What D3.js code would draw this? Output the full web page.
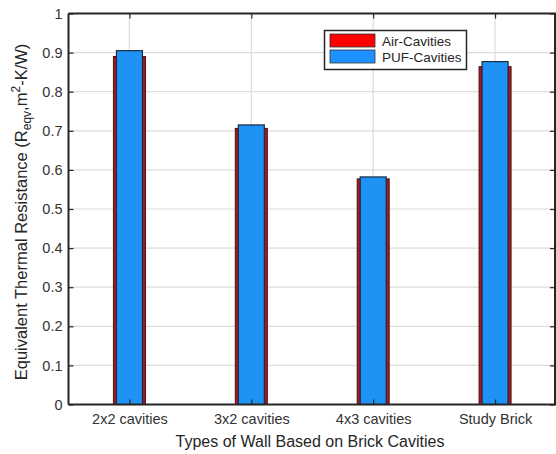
<!DOCTYPE html>
<html>
<head>
<meta charset="utf-8">
<script src="https://cdn.jsdelivr.net/npm/d3@7"></script>
<style>
  html, body { margin: 0; padding: 0; background: #fff; }
  svg { display: block; font-family: "Liberation Sans", Arial, sans-serif; }
</style>
</head>
<body>
<svg id="chart" width="556" height="454"></svg>
<script>
// Wall types and equivalent thermal resistance values (m²·K/W)
const categories = ["2x2 cavities", "3x2 cavities", "4x3 cavities", "Study Brick"];
const airCavities = [0.890, 0.706, 0.577, 0.864];
const pufCavities = [0.905, 0.715, 0.582, 0.877];
const yTicks = [0, 0.1, 0.2, 0.3, 0.4, 0.5, 0.6, 0.7, 0.8, 0.9, 1];
const seriesNames = ["Air-Cavities", "PUF-Cavities"];

const svg = d3.select("#chart");
const plotLeft = 68.5, plotRight = 556, plotTop = 13.5, plotBottom = 404.5;

const x = d3.scaleLinear().domain([0.5, 4.5]).range([plotLeft, plotRight]);
const y = d3.scaleLinear().domain([0, 1]).range([plotBottom, plotTop]);

const axisColor = "#262626";

// grid
const grid = svg.append("g");
grid.selectAll("line.h").data(yTicks).join("line")
  .attr("x1", plotLeft).attr("x2", plotRight)
  .attr("y1", d => y(d)).attr("y2", d => y(d))
  .attr("stroke", "#dcdcdc").attr("stroke-width", 1.2);
grid.selectAll("line.v").data(categories).join("line")
  .attr("x1", (d, i) => x(i + 1)).attr("x2", (d, i) => x(i + 1))
  .attr("y1", plotTop).attr("y2", plotBottom)
  .attr("stroke", "#dcdcdc").attr("stroke-width", 1.2);

// bars: Air behind (wider), PUF in front
const redW = 32, blueW = 26;
svg.append("g").selectAll("rect").data(airCavities).join("rect")
  .attr("x", (d, i) => x(i + 1) - redW / 2)
  .attr("width", redW)
  .attr("y", d => y(d))
  .attr("height", d => y(0) - y(d))
  .attr("fill", "#a8181c")
  .attr("stroke", "#4a1010").attr("stroke-width", 1);

svg.append("g").selectAll("rect").data(pufCavities).join("rect")
  .attr("x", (d, i) => x(i + 1) - blueW / 2)
  .attr("width", blueW)
  .attr("y", d => y(d))
  .attr("height", d => y(0) - y(d))
  .attr("fill", "#1f93f5")
  .attr("stroke", "#1a2a44").attr("stroke-width", 1.2);

// axes (box with inward ticks)
const yAxisL = d3.axisLeft(y).tickValues(yTicks).tickSize(-5).tickPadding(6)
  .tickFormat(d => d3.format("~g")(d));
const gy = svg.append("g").attr("transform", `translate(${plotLeft},0)`).call(yAxisL);
const yAxisR = d3.axisRight(y).tickValues(yTicks).tickSize(-5).tickFormat("");
const gyr = svg.append("g").attr("transform", `translate(${plotRight - 1},0)`).call(yAxisR);

const xAxisB = d3.axisBottom(x).tickValues([1, 2, 3, 4]).tickSize(-5).tickPadding(9)
  .tickFormat((d) => categories[d - 1]);
const gx = svg.append("g").attr("transform", `translate(0,${plotBottom})`).call(xAxisB);
const xAxisT = d3.axisTop(x).tickValues([1, 2, 3, 4]).tickSize(-5).tickFormat("");
const gxt = svg.append("g").attr("transform", `translate(0,${plotTop})`).call(xAxisT);

[gy, gyr, gx, gxt].forEach(g => {
  g.select(".domain").attr("stroke", axisColor).attr("stroke-width", 2);
  g.selectAll(".tick line").attr("stroke", axisColor).attr("stroke-width", 1.2);
  g.selectAll("text").attr("fill", "#333").style("font-size", "14.5px")
    .style("font-family", "'Liberation Sans', Arial, sans-serif");
});
// straight box edges without outward end caps
[gy, gyr].forEach(g => g.select(".domain").attr("d", `M0,${plotTop}V${plotBottom}`));
[gx, gxt].forEach(g => g.select(".domain").attr("d", `M${plotLeft},0H${plotRight}`));

// axis labels
svg.append("text")
  .attr("x", 310).attr("y", 447)
  .attr("text-anchor", "middle")
  .attr("fill", "#262626").style("font-size", "16px")
  .text("Types of Wall Based on Brick Cavities");

const yl = svg.append("text")
  .attr("transform", "translate(27,212) rotate(-90)")
  .attr("text-anchor", "middle")
  .attr("fill", "#262626").style("font-size", "16.5px");
yl.append("tspan").text("Equivalent Thermal Resistance (R");
yl.append("tspan").attr("dy", 4).style("font-size", "12px").text("eqv");
yl.append("tspan").attr("dy", -4).text(",m");
yl.append("tspan").attr("dy", -7).style("font-size", "12px").text("2");
yl.append("tspan").attr("dy", 7).text("-K/W)");

// legend
const lg = svg.append("g");
lg.append("rect").attr("x", 324.5).attr("y", 30.5).attr("width", 142).attr("height", 39)
  .attr("fill", "#fff").attr("stroke", "#262626").attr("stroke-width", 1.5);
const lcol = ["#ff0000", "#1e90ff"];
seriesNames.forEach((n, i) => {
  lg.append("rect").attr("x", 330).attr("y", 34 + i * 16).attr("width", 45).attr("height", 13)
    .attr("fill", lcol[i]).attr("stroke", "#333").attr("stroke-width", 0.8);
  lg.append("text").attr("x", 382).attr("y", 45.5 + i * 16)
    .attr("fill", "#262626").style("font-size", "13.5px").text(n);
});
</script>
</body>
</html>
